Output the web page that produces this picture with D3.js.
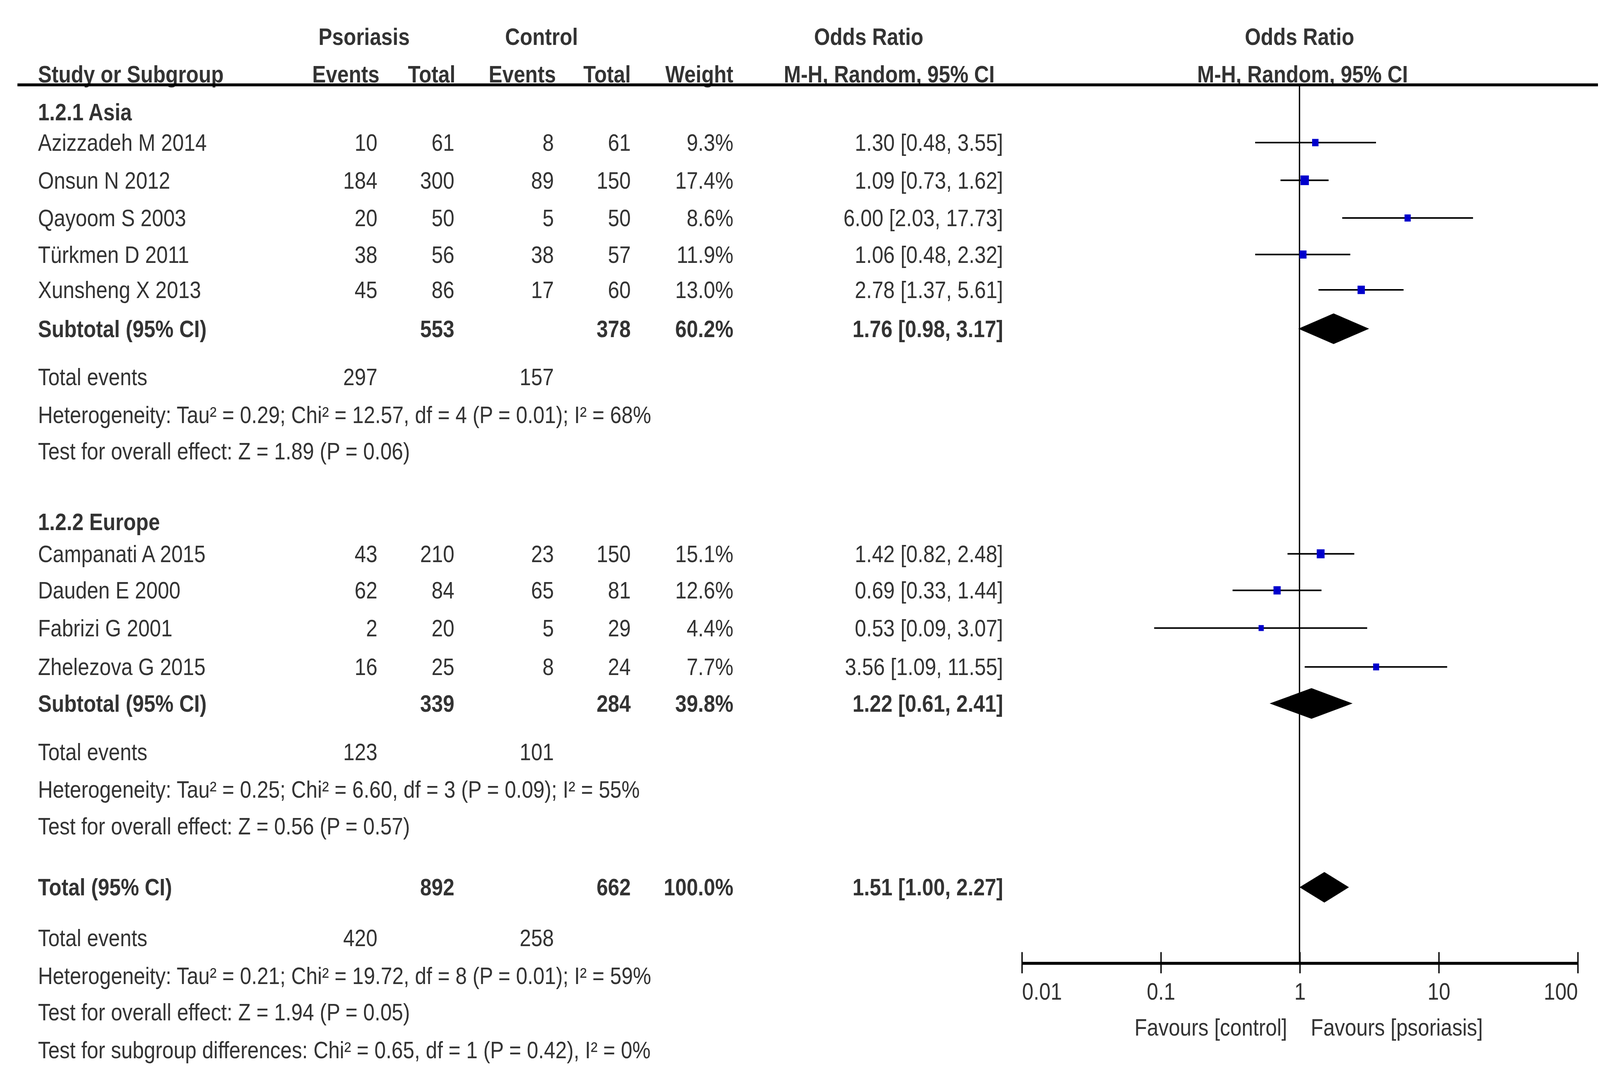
<!DOCTYPE html>
<html><head><meta charset="utf-8">
<script src="https://cdn.jsdelivr.net/npm/d3@7"></script>
<style>html,body{margin:0;background:#fff;overflow:hidden}
svg{position:fixed;left:0;top:0;width:100vw;height:100vh}
text{font-family:"Liberation Sans",Arial,sans-serif;fill:#333}</style>
</head><body><div id="chart"></div>
<script>
// Study rows
const studies = ['Azizzadeh M 2014','Onsun N 2012','Qayoom S 2003','Türkmen D 2011','Xunsheng X 2013',
                 'Campanati A  2015','Dauden E  2000','Fabrizi G 2001','Zhelezova G 2015'];
const psoEvents = [10,184,20,38,45,43,62,2,16];
const psoTotal = [61,300,50,56,86,210,84,20,25];
const ctlEvents = [8,89,5,38,17,23,65,5,8];
const ctlTotal = [61,150,50,57,60,150,81,29,24];
const weights = [9.3,17.4,8.6,11.9,13.0,15.1,12.6,4.4,7.7];
const orMid = [1.30,1.09,6.00,1.06,2.78,1.42,0.69,0.53,3.56];
const orLo = [0.48,0.73,2.03,0.48,1.37,0.82,0.33,0.09,1.09];
const orHi = [3.55,1.62,17.73,2.32,5.61,2.48,1.44,3.07,11.55];
const studyRowY = [121,153,185,216,246,470,501,533,566];

// Pooled rows
const pooledLabels = ['Subtotal (95% CI)','Subtotal (95% CI)','Total (95% CI)'];
const pooledPso = [553,339,892];
const pooledCtl = [378,284,662];
const pooledWeight = ['60.2%','39.8%','100.0%'];
const pooledMid = [1.76,1.22,1.51];
const pooledLo = [0.98,0.61,1.00];
const pooledHi = [3.17,2.41,2.27];
const pooledRowY = [279,597,753];

// Summary text rows
const totEvents = [[297,157,327],[123,101,645],[420,258,803]];
const notes = [
  ['Heterogeneity: Tau² = 0.29; Chi² = 12.57, df = 4 (P = 0.01); I² = 68%',359],
  ['Test for overall effect: Z = 1.89 (P = 0.06)',390],
  ['Heterogeneity: Tau² = 0.25; Chi² = 6.60, df = 3 (P = 0.09); I² = 55%',677],
  ['Test for overall effect: Z = 0.56 (P = 0.57)',708],
  ['Heterogeneity: Tau² = 0.21; Chi² = 19.72, df = 8 (P = 0.01); I² = 59%',835],
  ['Test for overall effect: Z = 1.94 (P = 0.05)',866],
  ['Test for subgroup differences: Chi² = 0.65, df = 1 (P = 0.42), I² = 0%',898]
];
const groups = [['1.2.1 Asia',102],['1.2.2 Europe',450]];
const ticks = [0.01,0.1,1,10,100];

const svg = d3.select('#chart').append('svg')
  .attr('viewBox','0 0 1560 914')
  .attr('preserveAspectRatio','none');

const x = d3.scaleLog().domain([0.01,100]).range([996,1538]);
const fs = 20;
const fmt = d3.format('.2f');

function txt(s,xx,yy,anchor,bold){
  svg.append('text').attr('x',xx).attr('y',yy).attr('text-anchor',anchor||'start')
    .attr('font-size',fs).attr('font-weight',bold?'bold':'normal').text(s);
}

// headers
txt('Psoriasis',355,38,'middle',true);
txt('Control',528,38,'middle',true);
txt('Odds Ratio',847,38,'middle',true);
txt('Odds Ratio',1267,38,'middle',true);
txt('Study or Subgroup',37,70,'start',true);
txt('Events',370,70,'end',true);
txt('Total',444,70,'end',true);
txt('Events',542,70,'end',true);
txt('Total',615,70,'end',true);
txt('Weight',715,70,'end',true);
txt('M-H, Random, 95% CI',867,70,'middle',true);
txt('M-H, Random, 95% CI',1270,70,'middle',true);
svg.append('line').attr('x1',17).attr('x2',1558).attr('y1',72).attr('y2',72)
  .attr('stroke','#000').attr('stroke-width',2.5);

groups.forEach(g => txt(g[0],37,g[1],'start',true));

// study rows
studies.forEach((s,i) => {
  const by = studyRowY[i]+7;
  txt(s,37,by);
  txt(psoEvents[i],368,by,'end');
  txt(psoTotal[i],443,by,'end');
  txt(ctlEvents[i],540,by,'end');
  txt(ctlTotal[i],615,by,'end');
  txt(weights[i].toFixed(1)+'%',715,by,'end');
  txt(fmt(orMid[i])+' ['+fmt(orLo[i])+', '+fmt(orHi[i])+']',978,by,'end');
});

pooledLabels.forEach((s,i) => {
  const by = pooledRowY[i]+7;
  txt(s,37,by,'start',true);
  txt(pooledPso[i],443,by,'end',true);
  txt(pooledCtl[i],615,by,'end',true);
  txt(pooledWeight[i],715,by,'end',true);
  txt(fmt(pooledMid[i])+' ['+fmt(pooledLo[i])+', '+fmt(pooledHi[i])+']',978,by,'end',true);
});

totEvents.forEach(t => {
  txt('Total events',37,t[2]);
  txt(t[0],368,t[2],'end');
  txt(t[1],540,t[2],'end');
});
notes.forEach(n => txt(n[0],37,n[1]));

// null line
svg.append('line').attr('x1',x(1)).attr('x2',x(1)).attr('y1',72).attr('y2',817)
  .attr('stroke','#000').attr('stroke-width',1.3);

// CI lines and squares
svg.selectAll('.ci').data(studies).enter().append('line')
  .attr('x1',(d,i)=>x(orLo[i])).attr('x2',(d,i)=>x(orHi[i]))
  .attr('y1',(d,i)=>studyRowY[i]).attr('y2',(d,i)=>studyRowY[i])
  .attr('stroke','#000').attr('stroke-width',1.3);
svg.selectAll('.sq').data(studies).enter().append('rect')
  .attr('x',(d,i)=>x(orMid[i])-(2+weights[i]*0.12))
  .attr('y',(d,i)=>studyRowY[i]-(2+weights[i]*0.12))
  .attr('width',(d,i)=>2*(2+weights[i]*0.12))
  .attr('height',(d,i)=>2*(2+weights[i]*0.12))
  .attr('fill','#0000cc');

// diamonds
svg.selectAll('.dia').data(pooledLabels).enter().append('path')
  .attr('d',(d,i)=>{
    const y=pooledRowY[i];
    return `M${x(pooledLo[i])},${y}L${x(pooledMid[i])},${y-13}L${x(pooledHi[i])},${y}L${x(pooledMid[i])},${y+13}Z`;
  }).attr('fill','#000');

// axis
const ax = svg.append('g').attr('transform','translate(0,817)')
  .call(d3.axisBottom(x).tickValues(ticks).tickFormat(d=>String(d)).tickSize(9).tickSizeOuter(0));
ax.select('.domain').attr('stroke','#000').attr('stroke-width',2.5);
ax.selectAll('.tick line').attr('y1',-9).attr('y2',9).attr('stroke','#000').attr('stroke-width',1.3);
ax.selectAll('.tick text').attr('font-size',fs).attr('fill','#333')
  .attr('font-family','"Liberation Sans",Arial,sans-serif').attr('y',17).attr('dy','0.71em')
  .attr('text-anchor',(d,i)=>i===0?'start':(i===ticks.length-1?'end':'middle'));
txt('Favours [control]',1255,879,'end');
txt('Favours [psoriasis]',1278,879,'start');
</script></body></html>
